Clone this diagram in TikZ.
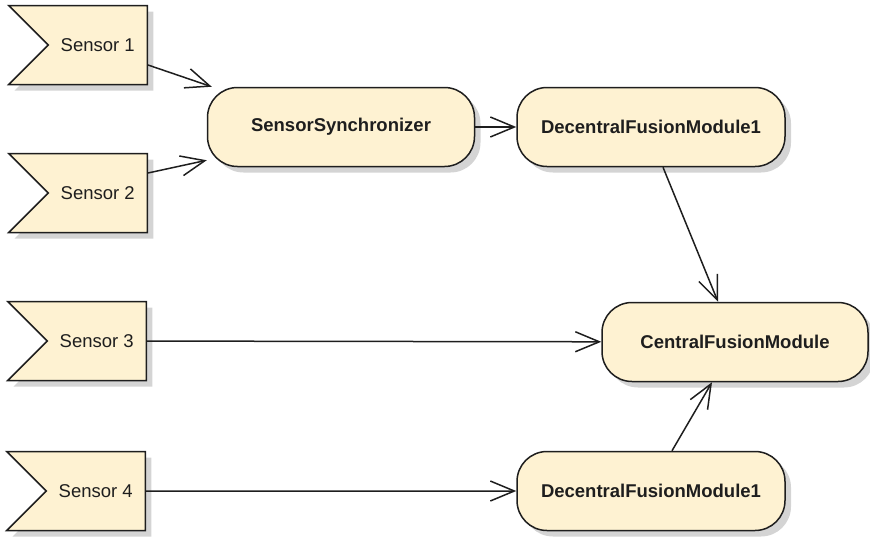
\documentclass[tikz,border=0pt]{standalone}
\usepackage{fontspec}
\setmainfont{Liberation Sans}
\usetikzlibrary{arrows.meta,shapes.symbols,shadows}
\definecolor{boxfill}{HTML}{FEF2D2}
\definecolor{shadowgray}{HTML}{D4D4D4}
\definecolor{inkcol}{HTML}{1E1E1E}

\begin{document}
\begin{tikzpicture}[x=1pt,y=-1pt,
    boxshadow/.style={general shadow={fill=shadowgray, shadow xshift=6pt, shadow yshift=-6pt}},
    sensor/.style={signal, signal to=nowhere, signal from=west, draw=inkcol, line width=1.5pt,
        fill=boxfill, boxshadow, minimum height=79pt, inner xsep=12.5pt, text=inkcol,
        anchor=east, font=\fontsize{18.5}{21}\selectfont},
    module/.style={rectangle, rounded corners=30pt, draw=inkcol, line width=1.5pt,
        fill=boxfill, boxshadow, minimum height=79pt, text=inkcol,
        font=\fontsize{18.5}{21}\selectfont\bfseries},
    flow/.style={draw=inkcol, line width=1.5pt, -{Straight Barb[length=24pt,width=20pt]}}]
    \useasboundingbox (0,0) rectangle (870,538);

    \node[sensor] (s1) at (148,45) {Sensor 1};
    \node[sensor] (s2) at (148,193) {Sensor 2};
    \node[sensor] (s3) at (147,341) {Sensor 3};
    \node[sensor] (s4) at (146,491) {Sensor 4};

    \node[module, minimum width=267pt] (sync) at (341,127) {SensorSynchronizer};
    \node[module, minimum width=268pt] (dfm1) at (651,127) {DecentralFusionModule1};
    \node[module, minimum width=266pt] (cfm) at (735,342) {CentralFusionModule};
    \node[module, minimum width=268pt] (dfm2) at (651,491) {DecentralFusionModule1};

    \draw[flow] ([yshift=-20pt]s1.east) -- ([xshift=5pt]sync.north west);
    \draw[flow] ([yshift=20pt]s2.east) -- ([yshift=7pt]sync.south west);
    \draw[flow] (sync) -- (dfm1);
    \draw[flow] (s3) -- (cfm);
    \draw[flow] (s4) -- (dfm2);
    \draw[flow] ([xshift=12pt]dfm1.south) -- ([xshift=-17pt]cfm.north);
    \draw[flow] ([xshift=21pt]dfm2.north) -- ([xshift=-23pt]cfm.south);
\end{tikzpicture}
\end{document}
